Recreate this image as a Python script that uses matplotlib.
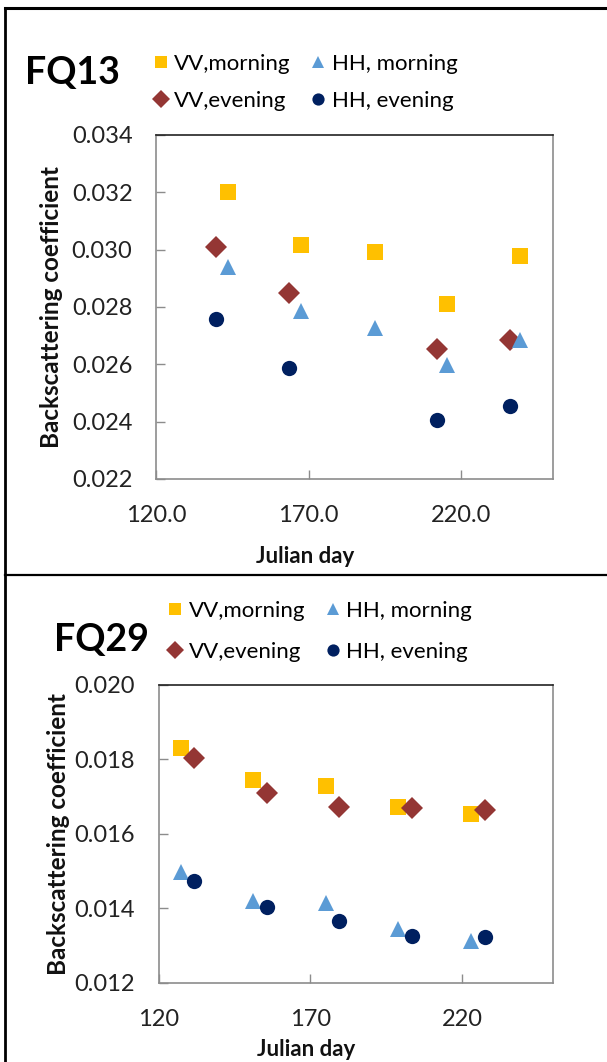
import matplotlib
matplotlib.use('Agg')
import matplotlib.pyplot as plt
from matplotlib.lines import Line2D
from matplotlib.ticker import FormatStrFormatter, MultipleLocator

plt.rcParams['font.family'] = ['Lato', 'DejaVu Sans']

# FQ13 beam mode
fq13_day_morning = [143.5, 167.6, 191.7, 215.3, 239.3]
fq13_vv_morning = [0.0320, 0.03015, 0.0299, 0.0281, 0.02977]
fq13_hh_morning = [0.0294, 0.02786, 0.02728, 0.02598, 0.02685]
fq13_day_evening = [139.7, 163.7, 212.0, 235.9]
fq13_vv_evening = [0.0301, 0.02847, 0.02654, 0.02684]
fq13_hh_evening = [0.02759, 0.02586, 0.02407, 0.02456]

# FQ29 beam mode
fq29_day_morning = [127.2, 151.1, 175.1, 198.8, 222.9]
fq29_vv_morning = [0.01831, 0.01745, 0.01728, 0.01673, 0.01652]
fq29_hh_morning = [0.01498, 0.0142, 0.01413, 0.01343, 0.01313]
fq29_day_evening = [131.7, 155.8, 179.4, 203.6, 227.6]
fq29_vv_evening = [0.01803, 0.01711, 0.01673, 0.0167, 0.01663]
fq29_hh_evening = [0.01473, 0.01403, 0.01366, 0.01325, 0.01322]

day_ticks = [120, 170, 220]
series_labels = ['VV,morning', 'HH, morning', 'VV,evening', 'HH, evening']
GOLD, BLUE, RED, NAVY = '#FFC000', '#5B9BD5', '#943634', '#002060'
SPINE = '#8c8c8c'


def scatter_panel(ax, day_m, vv_m, hh_m, day_e, vv_e, hh_e, ylim, xfmt,
                  leg_anchor, leg_spacing):
    ax.plot(day_m, vv_m, 's', color=GOLD, ms=11, mew=0, label=series_labels[0])
    ax.plot(day_e, vv_e, 'D', color=RED, ms=11.5, mew=0, label=series_labels[2])
    ax.plot(day_m, hh_m, '^', color=BLUE, ms=11.5, mew=0, label=series_labels[1])
    ax.plot(day_e, hh_e, 'o', color=NAVY, ms=11, mew=0, label=series_labels[3])

    ax.set_xlim(120, 250)
    ax.set_ylim(*ylim)
    ax.set_xticks(day_ticks)
    ax.yaxis.set_major_locator(MultipleLocator(0.002))
    ax.xaxis.set_major_formatter(FormatStrFormatter(xfmt))
    ax.yaxis.set_major_formatter(FormatStrFormatter('%.3f'))
    ax.tick_params(direction='in', length=6.5, width=1, color=SPINE,
                   labelsize=17, labelcolor='#222222')
    ax.tick_params(axis='x', pad=19)
    ax.tick_params(axis='y', pad=17)
    for side in ['left', 'bottom', 'right']:
        ax.spines[side].set_color(SPINE)
        ax.spines[side].set_linewidth(1.2)
    ax.spines['top'].set_color('#222222')
    ax.spines['top'].set_linewidth(1.2)

    ax.set_xlabel('Julian day', fontsize=16, fontweight='bold', color='#111111')
    ax.set_ylabel('Backscattering coefficient', fontsize=17.5,
                  fontweight='bold', color='#111111')

    ax.legend(ncol=2, loc='center left', bbox_to_anchor=leg_anchor,
              frameon=False, fontsize=16, markerscale=0.8,
              handlelength=0.6, handletextpad=0.3, columnspacing=0.95,
              labelspacing=leg_spacing, borderpad=0, borderaxespad=0)


fig = plt.figure(figsize=(6.07, 10.62), dpi=100)

ax1 = fig.add_axes([0.257, 0.549, 0.654, 0.324])
scatter_panel(ax1, fq13_day_morning, fq13_vv_morning, fq13_hh_morning,
              fq13_day_evening, fq13_vv_evening, fq13_hh_evening,
              (0.022, 0.034), '%.1f', (-0.005, 1.153), 0.78)
ax1.yaxis.set_label_coords(-0.235, 0.5)
ax1.xaxis.set_label_coords(0.375, -0.195)

ax2 = fig.add_axes([0.2615, 0.0747, 0.650, 0.2803])
scatter_panel(ax2, fq29_day_morning, fq29_vv_morning, fq29_hh_morning,
              fq29_day_evening, fq29_vv_evening, fq29_hh_evening,
              (0.012, 0.020), '%d', (0.025, 1.18), 0.95)
ax2.yaxis.set_label_coords(-0.225, 0.5)
ax2.xaxis.set_label_coords(0.373, -0.19)

fig.text(0.1186, 0.9308, 'FQ13', fontsize=27, fontweight='bold',
         ha='center', va='center')
fig.text(0.1672, 0.3974, 'FQ29', fontsize=27, fontweight='bold',
         ha='center', va='center')

# frame around the two panels
fig.add_artist(Line2D([0.009, 1.0], [0.992, 0.992], color='black', lw=2.2,
                      transform=fig.transFigure))
fig.add_artist(Line2D([0.009, 0.009], [0.0, 0.992], color='black', lw=2.0,
                      transform=fig.transFigure))
fig.add_artist(Line2D([0.009, 1.0], [0.4586, 0.4586], color='black', lw=1.6,
                      transform=fig.transFigure))

fig.savefig('out.png', dpi=100)
